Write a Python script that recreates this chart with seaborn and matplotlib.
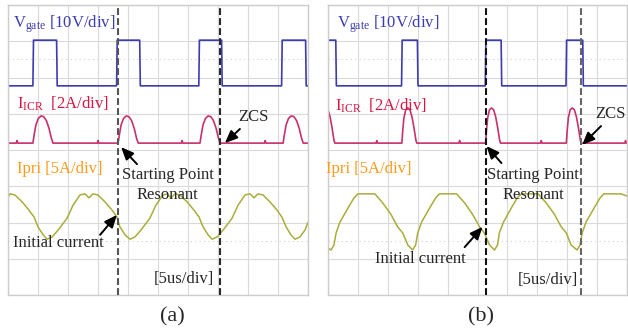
import numpy as np
import pandas as pd
import matplotlib
matplotlib.use("Agg")
import matplotlib.pyplot as plt
import seaborn as sns

# ---------------- data (screen divisions: x 0..10, y -4..4) ----------------
# Panel (a)
VG_A_T = [0, 0.83, 0.85, 1.62, 1.64, 3.62, 3.64, 4.39, 4.41, 6.36, 6.38, 7.12, 7.14, 9.12, 9.14, 9.92, 9.94, 10.0]
VG_A_V = [1.77, 1.77, 3.03, 3.03, 1.77, 1.77, 3.03, 3.03, 1.77, 1.77, 3.03, 3.03, 1.77, 1.77, 3.03, 3.03, 1.77, 1.77]

ICR_A_BASE = 0.19
ICR_A_STARTS = [0.83, 3.67, 6.40, 9.17]
ICR_A_SHAPE_T = [0, 0.04, 0.10, 0.18, 0.27, 0.36, 0.45, 0.54, 0.61, 0.67]
ICR_A_SHAPE_V = [0, 0.22, 0.50, 0.68, 0.75, 0.73, 0.62, 0.40, 0.15, 0]
ICR_A_GLITCH = [0.30, 3.00, 5.80, 8.57]

IP_A_T = [0.0, 0.07, 0.23, 0.47, 0.70, 0.87, 1.00, 1.17, 1.30,
          1.47, 1.67, 1.97, 2.17, 2.40, 2.57, 2.70, 2.83, 3.00, 3.23, 3.47, 3.63, 3.73, 3.90, 4.07,
          4.23, 4.43, 4.73, 4.93, 5.17, 5.30, 5.43, 5.57, 5.73, 5.97, 6.20, 6.37, 6.50, 6.67, 6.80,
          6.97, 7.17, 7.47, 7.67, 7.90, 8.07, 8.20, 8.33, 8.50, 8.73, 8.97, 9.13, 9.27, 9.43, 9.57,
          9.73, 9.90, 10.0]
IP_A_V = [-1.30, -1.21, -1.24, -1.43, -1.66, -1.85, -2.12, -2.34, -2.46,
          -2.40, -2.21, -1.88, -1.52, -1.24, -1.21, -1.32, -1.21, -1.24, -1.43, -1.66, -1.85, -2.12, -2.34, -2.46,
          -2.40, -2.21, -1.88, -1.52, -1.24, -1.21, -1.32, -1.21, -1.24, -1.43, -1.66, -1.85, -2.12, -2.34, -2.46,
          -2.40, -2.21, -1.88, -1.52, -1.24, -1.21, -1.32, -1.21, -1.24, -1.43, -1.66, -1.85, -2.12, -2.34, -2.46,
          -2.40, -2.21, -1.99]

# Panel (b)
VG_B_T = [0, 0.26, 0.28, 2.46, 2.48, 2.99, 3.01, 5.26, 5.28, 5.79, 5.81, 7.96, 7.98, 8.52, 8.54, 10.0]
VG_B_V = [3.03, 3.03, 1.77, 1.77, 3.03, 3.03, 1.77, 1.77, 3.03, 3.03, 1.77, 1.77, 3.03, 3.03, 1.77, 1.77]

ICR_B_BASE = 0.19
ICR_B_STARTS = [-0.27, 2.47, 5.27, 7.97]
ICR_B_SHAPE_T = [0, 0.03, 0.07, 0.13, 0.20, 0.27, 0.34, 0.41, 0.47, 0.50]
ICR_B_SHAPE_V = [0, 0.35, 0.70, 0.92, 0.97, 0.92, 0.72, 0.40, 0.08, 0]
ICR_B_GLITCH = [1.63, 4.40, 7.13, 9.95]

IP_B_T = [0.0, 0.10, 0.20, 0.27, 0.40, 0.67, 0.87, 1.00,
          1.57, 1.83, 2.10, 2.33, 2.50, 2.67, 2.83,
          2.93, 3.00, 3.13, 3.40, 3.60, 3.73,
          4.30, 4.57, 4.83, 5.07, 5.23, 5.40, 5.57,
          5.67, 5.73, 5.87, 6.13, 6.33, 6.47,
          7.03, 7.30, 7.57, 7.80, 7.97, 8.13, 8.33,
          8.43, 8.50, 8.63, 8.90, 9.10, 9.23,
          9.80, 10.0]
IP_B_V = [-2.70, -2.76, -2.62, -2.29, -1.99, -1.60, -1.32, -1.21,
          -1.21, -1.46, -1.77, -2.12, -2.29, -2.62, -2.76,
          -2.62, -2.29, -1.99, -1.60, -1.32, -1.21,
          -1.21, -1.46, -1.77, -2.12, -2.29, -2.62, -2.76,
          -2.62, -2.29, -1.99, -1.60, -1.32, -1.21,
          -1.21, -1.46, -1.77, -2.12, -2.29, -2.62, -2.76,
          -2.62, -2.29, -1.99, -1.60, -1.32, -1.21,
          -1.21, -1.27]

DASH_A = [3.67, 7.07]
DASH_B = [5.27, 8.47]

# ---------------- style ----------------
sns.set_style("white")
plt.rcParams["font.family"] = ["Liberation Serif", "DejaVu Serif"]
plt.rcParams["mathtext.fontset"] = "custom"
plt.rcParams["mathtext.rm"] = "Liberation Serif"
plt.rcParams["mathtext.it"] = "Liberation Serif:italic"

C_VG = "#3c3cb0"
C_ICR = "#c8306e"
C_ICR_TXT = "#d81440"
C_IP = "#a9ad3a"
C_IP_TXT = "#ff9a1a"
C_GRID = "#dadada"


def build_icr(base, starts, shp_t, shp_v, glitches):
    t, v = [0.0], [base]
    events = [(s, "p") for s in starts] + [(g, "g") for g in glitches]
    events.sort()
    for pos, kind in events:
        if kind == "p":
            for dt, dv in zip(shp_t, shp_v):
                t.append(pos + dt)
                v.append(base + dv)
        else:
            t += [pos - 0.02, pos, pos + 0.03]
            v += [base, base + 0.07, base]
    t.append(10.0)
    v.append(base)
    return pd.DataFrame({"t": t, "v": v})


fig = plt.figure(figsize=(6.28, 3.33), dpi=100)
W, H = 628, 333
axes = [fig.add_axes([8 / W, 38 / H, 300 / W, 290 / H]),
        fig.add_axes([328 / W, 38 / H, 299 / W, 290 / H])]

panels = [
    dict(vg=(VG_A_T, VG_A_V),
         icr=build_icr(ICR_A_BASE, ICR_A_STARTS, ICR_A_SHAPE_T, ICR_A_SHAPE_V, ICR_A_GLITCH),
         ip=(IP_A_T, IP_A_V), dash=DASH_A, dash_col=["#555555", "#2a2a2a"],
         vg_lbl=(0.17, 3.48), icr_lbl=(0.30, 1.27), ip_lbl=(0.30, -0.52),
         sp=(5.32, -0.69), res=(5.32, -1.24), sp_arrow=((3.77, 0.08), (4.30, -0.39)),
         ic=(1.67, -2.57), ic_arrow=((3.63, -1.79), (3.07, -2.34)),
         scale=(5.85, -3.56), zcs=(8.17, 0.91), zcs_arrow=((7.23, 0.19), (7.73, 0.58)),
         cap=("(a)", 5.47)),
    dict(vg=(VG_B_T, VG_B_V),
         icr=build_icr(ICR_B_BASE, ICR_B_STARTS, ICR_B_SHAPE_T, ICR_B_SHAPE_V, ICR_B_GLITCH),
         ip=(IP_B_T, IP_B_V), dash=DASH_B, dash_col=["#111111", "#666666"],
         vg_lbl=(0.30, 3.48), icr_lbl=(0.23, 1.21), ip_lbl=(-0.07, -0.52),
         sp=(6.87, -0.69), res=(6.87, -1.24), sp_arrow=((5.30, 0.11), (5.80, -0.36)),
         ic=(3.10, -3.00), ic_arrow=((5.17, -2.12), (4.57, -2.68)),
         scale=(7.37, -3.60), zcs=(9.45, 0.99), zcs_arrow=((8.50, 0.14), (9.13, 0.66)),
         cap=("(b)", 5.13)),
]

arrow_kw = dict(arrowstyle="-|>,head_length=0.75,head_width=0.32", color="black",
                lw=1.4, shrinkA=0, shrinkB=0)
FS = 12

for ax, p in zip(axes, panels):
    ax.set_xlim(0, 10)
    ax.set_ylim(-4, 4)
    ax.set_xticks(range(0, 11))
    ax.set_yticks(range(-4, 5))
    ax.tick_params(length=0, labelbottom=False, labelleft=False)
    ax.grid(True, color=C_GRID, lw=0.8)
    ax.set_axisbelow(True)
    for s in ax.spines.values():
        s.set_color("#cccccc")
        s.set_linewidth(1.0)
    for yy in (2.5, -2.5):
        ax.axhline(yy, color="#cfcfcf", lw=0.8, ls=(0, (1, 3)), zorder=0.5)

    sns.lineplot(data=pd.DataFrame({"t": p["vg"][0], "v": p["vg"][1]}), x="t", y="v",
                 ax=ax, color=C_VG, lw=1.2, sort=False, estimator=None)
    sns.lineplot(data=p["icr"], x="t", y="v", ax=ax, color=C_ICR, lw=1.2,
                 sort=False, estimator=None)
    sns.lineplot(data=pd.DataFrame({"t": p["ip"][0], "v": p["ip"][1]}), x="t", y="v",
                 ax=ax, color=C_IP, lw=1.1, sort=False, estimator=None)
    ax.set_xlabel("")
    ax.set_ylabel("")

    for xd, col in zip(p["dash"], p["dash_col"]):
        line = ax.axvline(xd, color=col, lw=1.5, ls=(0, (3.3, 1.5)), zorder=4)
        line.set_clip_on(False)

    ax.text(*p["vg_lbl"], r"$\mathrm{V}_{\mathrm{gate}}$ [10V/div]", color=C_VG,
            fontsize=FS, ha="left", va="center", zorder=5)
    ax.text(*p["icr_lbl"], r"$\mathrm{I}_{\mathrm{ICR}}$  [2A/div]", color=C_ICR_TXT,
            fontsize=FS, ha="left", va="center", zorder=5)
    ax.text(*p["ip_lbl"], "Ipri [5A/div]", color=C_IP_TXT, fontsize=FS,
            ha="left", va="center", zorder=5, clip_on=False)
    ax.text(*p["sp"], "Starting Point", fontsize=FS, ha="center", va="center", zorder=5,
            clip_on=False)
    ax.text(*p["res"], "Resonant", fontsize=FS, ha="center", va="center", zorder=5)
    ax.text(*p["ic"], "Initial current", fontsize=FS, ha="center", va="center", zorder=5)
    ax.text(*p["scale"], "[5us/div]", fontsize=FS, ha="center", va="center", zorder=5)
    ax.text(*p["zcs"], "ZCS", fontsize=FS, ha="center", va="center", zorder=5,
            clip_on=False)
    for head, tail in (p["sp_arrow"], p["ic_arrow"], p["zcs_arrow"]):
        ax.annotate("", xy=head, xytext=tail, arrowprops=arrow_kw, zorder=6)
    ax.text(p["cap"][1], -4.61, p["cap"][0], fontsize=16, ha="center", va="center",
            clip_on=False)

fig.savefig("out.png", dpi=100)
